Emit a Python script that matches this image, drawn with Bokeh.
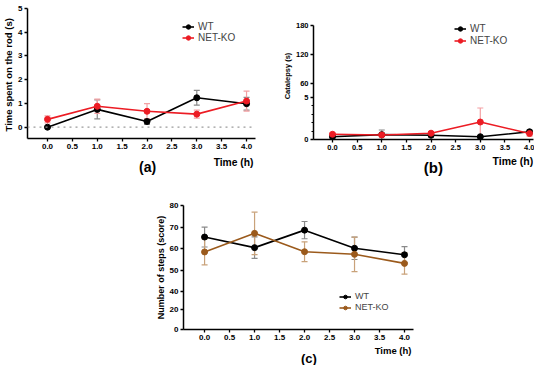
from bokeh.plotting import figure
from bokeh.models import (ColumnDataSource, Whisker, TeeHead, Span, FixedTicker, Range1d,
                          Legend, LegendItem, Spacer, NumeralTickFormatter)
from bokeh.core.properties import value
from bokeh.layouts import row, column
from bokeh.embed import file_html
from bokeh.resources import INLINE

# ---------------- data ----------------
time_h = [0.0, 1.0, 2.0, 3.0, 4.0]
x_ticks = [0.0, 0.5, 1.0, 1.5, 2.0, 2.5, 3.0, 3.5, 4.0]

# (a) time spent on the rod (s)
a_wt = [0.0, 0.75, 0.24, 1.24, 0.99]
a_wt_err = [0.0, 0.40, 0.12, 0.31, 0.27]
a_ko = [0.33, 0.88, 0.67, 0.55, 1.10]
a_ko_err = [0.15, 0.30, 0.32, 0.17, 0.42]
a_yticks = [0, 1, 2, 3, 4, 5]

# (b) catalepsy (s)
b_wt = [0.33, 0.58, 0.50, 0.33, 0.92]
b_wt_err = [0.12, 0.55, 0.15, 0.10, 0.20]
b_ko = [0.62, 0.54, 0.75, 2.08, 0.71]
b_ko_err = [0.15, 0.20, 0.15, 1.67, 0.30]
b_low_ticks = [0, 5]
b_high_ticks = [60, 120, 180]

# (c) number of steps (score)
c_wt = [65.4, 60.5, 68.6, 60.2, 57.2]
c_wt_err = [4.6, 5.0, 4.0, 5.2, 3.8]
c_ko = [58.5, 67.1, 58.6, 57.4, 53.2]
c_ko_err = [6.0, 9.8, 4.6, 8.0, 5.0]
c_low_ticks = [0, 20]
c_high_ticks = [40, 50, 60, 70, 80]

FONT = "Liberation Sans"
RED = "#ec1c24"
BROWN = "#9b5a1c"


def make_fig(w, h, xr, yr, left, right, top, bottom, **kw):
    return figure(width=w, height=h, x_range=xr, y_range=yr,
                  min_border_left=left, min_border_right=right,
                  min_border_top=top, min_border_bottom=bottom,
                  title_location=None, output_backend="svg", toolbar_location=None, **kw)


def style(p, tick_size="8px", label_size="9.5px"):
    p.xgrid.visible = False
    p.ygrid.visible = False
    p.outline_line_color = None
    p.background_fill_color = "white"
    p.border_fill_color = "white"
    for ax in p.axis:
        ax.axis_line_width = 1.5
        ax.axis_line_color = "black"
        ax.major_tick_line_width = 1.3
        ax.major_tick_line_color = "black"
        ax.major_tick_out = 3
        ax.major_tick_in = 0
        ax.minor_tick_out = 0
        ax.minor_tick_in = 0
        ax.major_label_text_font = FONT
        ax.major_label_text_font_style = "bold"
        ax.major_label_text_font_size = tick_size
        ax.major_label_text_color = "black"
        ax.major_label_standoff = 2
        ax.axis_label_text_font = FONT
        ax.axis_label_text_font_style = "bold"
        ax.axis_label_text_font_size = label_size
        ax.axis_label_text_color = "black"
        ax.axis_label_standoff = 1
    p.xaxis.ticker = FixedTicker(ticks=x_ticks)
    p.xaxis.formatter = NumeralTickFormatter(format="0.0")


def series(p, y, err, color, err_color, label):
    src = ColumnDataSource(dict(x=time_h, y=y,
                                lo=[v - e for v, e in zip(y, err)],
                                hi=[v + e for v, e in zip(y, err)]))
    w = Whisker(base="x", lower="lo", upper="hi", source=src, dimension="height",
                line_color=err_color, line_width=1.2, level="underlay",
                lower_head=TeeHead(size=6, line_color=err_color, line_width=1.2),
                upper_head=TeeHead(size=6, line_color=err_color, line_width=1.2))
    p.add_layout(w)
    r1 = p.line("x", "y", source=src, line_color=color, line_width=1.6)
    r2 = p.scatter("x", "y", source=src, marker="circle", size=6,
                   fill_color=color, line_color=color)
    return LegendItem(label=label, renderers=[r1, r2])


def add_legend(p, item, loc, font_size="10px", h=11):
    # one legend per entry, so each row sits exactly where the reference has it
    lg = Legend(items=[item], location=loc, padding=0, margin=0, spacing=0,
                border_line_alpha=0, background_fill_alpha=0,
                glyph_width=12, glyph_height=h, label_height=h, label_standoff=4,
                label_text_font=FONT, label_text_font_size=font_size)
    p.add_layout(lg)


def text_strip(main, w, h, left, right, entries):
    """A thin strip below a panel, sharing its x scale, for the 'Time (h)' and panel tag."""
    t = make_fig(w, h, main.x_range, Range1d(0, h), left, right, 0, 0,
                 x_axis_type=None, y_axis_type=None)
    t.outline_line_color = None
    t.grid.visible = False
    for x, y, s, size, align in entries:
        t.text(x=[x], y=[y], text=[s], text_font=value(FONT), text_font_style="bold",
               text_font_size=value(size), text_align=align,
               text_baseline="middle", text_color="black")
    return t


# ---------------- panel (a) ----------------
pa = make_fig(266, 156, Range1d(-0.402, 4.18), Range1d(-0.476, 5.0), 27, 11, 8, 18)
style(pa)
pa.yaxis.ticker = FixedTicker(ticks=a_yticks)
pa.yaxis.axis_label = "Time spent on the  rod (s)"
pa.add_layout(Span(location=0, dimension="width", line_color="#9a9a9a",
                   line_dash="dotted", line_width=1.2))
ia1 = series(pa, a_wt, a_wt_err, "black", "#8a8a8a", "WT")
ia2 = series(pa, a_ko, a_ko_err, RED, "#f3a0a3", "NET-KO")
add_legend(pa, ia1, (155, 106))
add_legend(pa, ia2, (155, 95))
ta = text_strip(pa, 266, 20, 27, 11, [(4.14, 14.5, "Time (h)", "10.3px", "right"),
                                      (2.01, 10, "(a)", "14px", "center")])

# ---------------- panel (b) ----------------
# broken axis: 0-5 on the lower part, 60-180 on the upper part
b_gap_lo, b_gap_hi = 6.667, 13.571


def b_pos(v):
    return round(b_gap_lo + (v - b_high_ticks[0]) * (b_gap_hi - b_gap_lo)
                 / (b_high_ticks[-1] - b_high_ticks[0]), 3)


# frame reaches a little above the 180 tick so the legend is not clipped;
# the axis itself stops at 180 (bounds)
pb = make_fig(268, 156, Range1d(-0.386, 4.08), Range1d(0, b_gap_hi + 13 / 8.4), 47, 1, 12, 17)
style(pb, tick_size="7.5px", label_size="7.5px")
b_tick_pos = [float(t) for t in b_low_ticks] + [b_pos(t) for t in b_high_ticks]
b_tick_lab = [str(t) for t in b_low_ticks + b_high_ticks]
pb.yaxis.ticker = FixedTicker(ticks=b_tick_pos, minor_ticks=[1, 2, 3, 4])
pb.yaxis.bounds = (0, b_gap_hi)
pb.yaxis.minor_tick_out = 2
pb.yaxis.minor_tick_line_color = "black"
pb.yaxis.major_label_overrides = dict(zip(b_tick_pos, b_tick_lab))
pb.yaxis.axis_label = "Catalepsy (s)"
ib1 = series(pb, b_wt, b_wt_err, "black", "#8a8a8a", "WT")
ib2 = series(pb, b_ko, b_ko_err, RED, "#f3a0a3", "NET-KO")
add_legend(pb, ib1, (141, 105))
add_legend(pb, ib2, (141, 93))
tb = text_strip(pb, 268, 20, 47, 1, [(4.075, 15.5, "Time (h)", "10.5px", "right"),
                                     (2.046, 9, "(b)", "15px", "center")])

# ---------------- panel (c) ----------------
c_bottom = 22.6


def c_low_pos(v):
    return round(c_bottom + v * (31.86 - c_bottom) / 20.0, 3)


pc = make_fig(300, 168, Range1d(-0.422, 4.18), Range1d(c_bottom, 80), 63, 7, 29, 15)
style(pc, tick_size="8px", label_size="9px")
c_tick_pos = [c_low_pos(t) for t in c_low_ticks] + [float(t) for t in c_high_ticks]
c_tick_lab = [str(t) for t in c_low_ticks + c_high_ticks]
pc.yaxis.ticker = FixedTicker(ticks=c_tick_pos)
pc.yaxis.major_label_overrides = dict(zip(c_tick_pos, c_tick_lab))
pc.yaxis.axis_label = "Number of steps (score)"
ic1 = series(pc, c_wt, c_wt_err, "black", "#8a8a8a", "WT")
ic2 = series(pc, c_ko, c_ko_err, BROWN, "#c9a27a", "NET-KO")
add_legend(pc, ic1, (156, 28), font_size="9px", h=9)
add_legend(pc, ic2, (156, 17), font_size="9px", h=9)
tc = text_strip(pc, 300, 21, 63, 7, [(4.14, 14.7, "Time (h)", "9.5px", "right"),
                                     (2.086, 7, "(c)", "13px", "center")])

layout = column(row(column(pa, ta), column(pb, tb)),
                row(Spacer(width=120, height=189), column(pc, tc)))

open("out.html", "w").write(file_html(layout, INLINE))
